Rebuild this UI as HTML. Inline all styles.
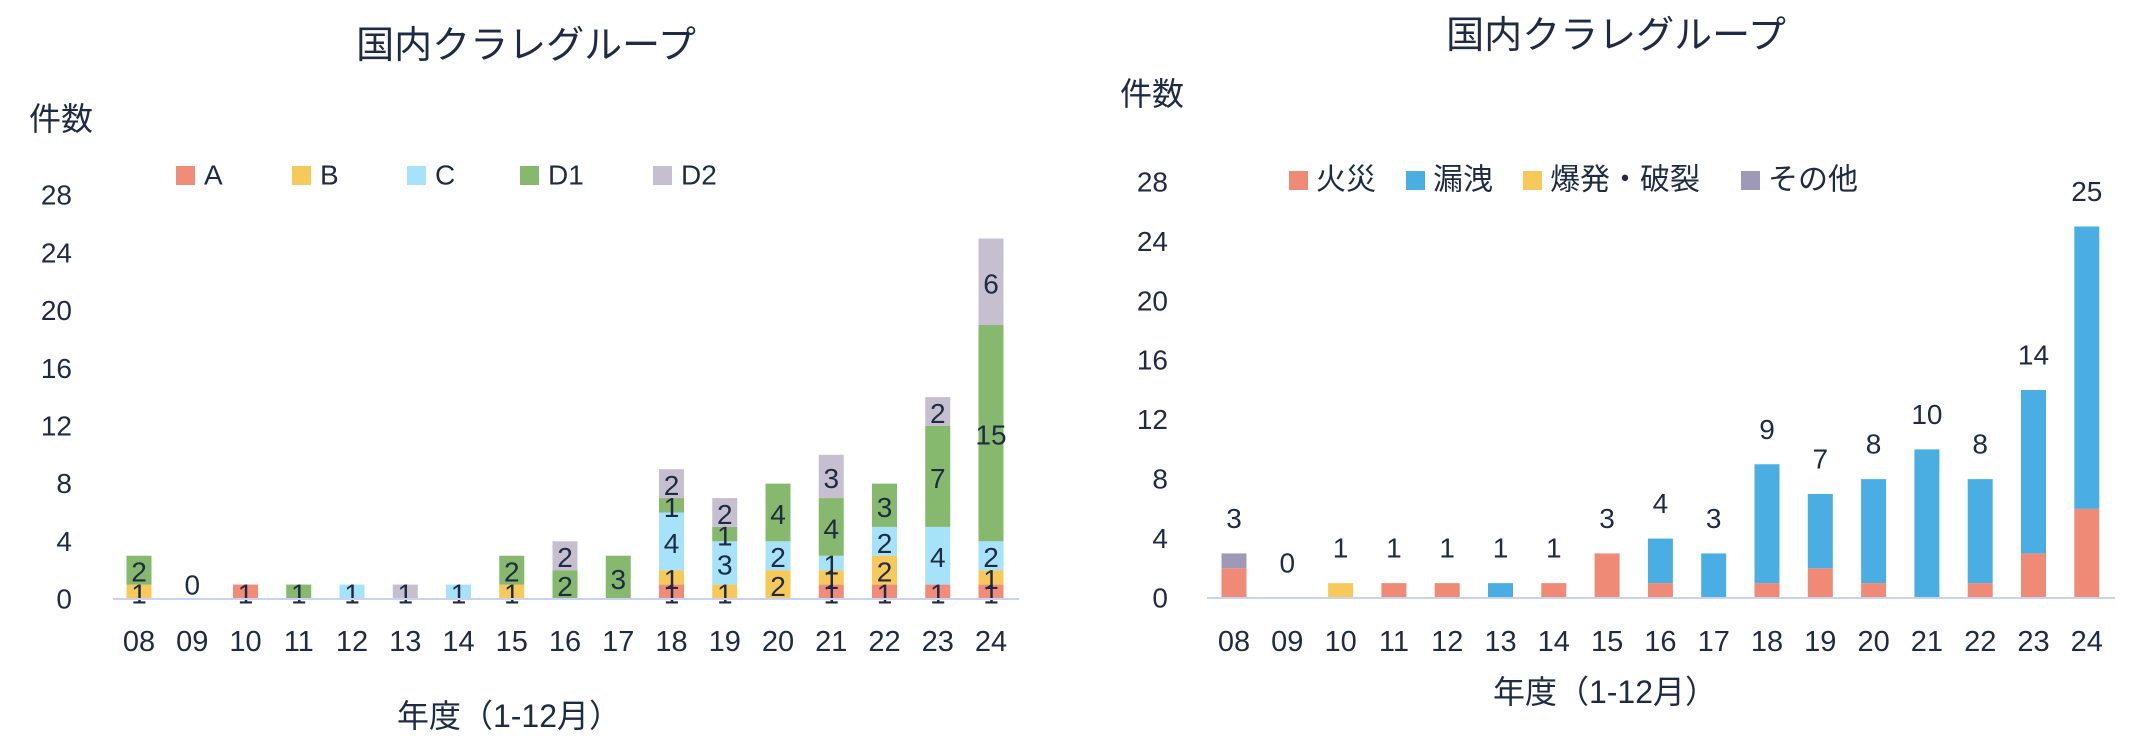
<!DOCTYPE html>
<html><head><meta charset="utf-8">
<style>
html,body{margin:0;padding:0;background:#fff;}
svg{display:block;font-family:"Liberation Sans","Noto Sans CJK JP",sans-serif;}
</style></head>
<body>
<svg id="c" width="2144" height="754" viewBox="0 0 2144 754" xmlns="http://www.w3.org/2000/svg">
<g id="left"></g>
<g id="right"></g>
</svg>
<script>
const years = ["08","09","10","11","12","13","14","15","16","17","18","19","20","21","22","23","24"];
const seriesA  = [0,0,1,0,0,0,0,0,0,0,1,0,0,1,1,1,1];
const seriesB  = [1,0,0,0,0,0,0,1,0,0,1,1,2,1,2,0,1];
const seriesC  = [0,0,0,0,1,0,1,0,0,0,4,3,2,1,2,4,2];
const seriesD1 = [2,0,0,1,0,0,0,2,2,3,1,1,4,4,3,7,15];
const seriesD2 = [0,0,0,0,0,1,0,0,2,0,2,2,0,3,0,2,6];
const fire      = [2,0,0,1,1,0,1,3,1,0,1,2,1,0,1,3,6];
const leak      = [0,0,0,0,0,1,0,0,3,3,8,5,7,10,7,11,19];
const explosion = [0,0,1,0,0,0,0,0,0,0,0,0,0,0,0,0,0];
const other     = [1,0,0,0,0,0,0,0,0,0,0,0,0,0,0,0,0];
const yTicks = [0,4,8,12,16,20,24,28];
const leftNames = ["A","B","C","D1","D2"];
const rightNames = ["火災","漏洩","爆発・破裂","その他"];

const NS="http://www.w3.org/2000/svg";
const TXT="#1f2a44";
function mk(parent,tag,attrs,text){
  const e=document.createElementNS(NS,tag);
  for(const k in attrs) e.setAttribute(k,attrs[k]);
  if(text!==undefined) e.textContent=text;
  parent.appendChild(e);
  return e;
}

function drawChart(g,cfg){
  const x=i=>cfg.x0+i*cfg.step;
  const y=v=>cfg.y0-v*cfg.unit;
  let t=mk(g,"text",{x:cfg.titleX,y:cfg.titleY,"font-size":38,fill:TXT,"text-anchor":"middle","dominant-baseline":"central"},"国内クラレグループ");
  
  
  t=mk(g,"text",{x:cfg.ylabX,y:cfg.ylabY,"font-size":32,fill:TXT,"dominant-baseline":"central"},"件数");
  
  
  yTicks.forEach(v=>{
    const e=mk(g,"text",{x:cfg.tickX,y:y(v),"font-size":28,fill:TXT,"text-anchor":"end","dominant-baseline":"central"},String(v));
    
    
  });
  years.forEach((yr,i)=>{
    const e=mk(g,"text",{x:x(i),y:642,"font-size":29,fill:TXT,"text-anchor":"middle","dominant-baseline":"central"},yr);
    
    
  });
  t=mk(g,"text",{x:cfg.xtX,y:cfg.xtY,"font-size":32,fill:TXT,"text-anchor":"middle","dominant-baseline":"central"},"年度（1-12月）");
  
  
  // bars
  const bw=25;
  years.forEach((yr,i)=>{
    let acc=0;
    cfg.series.forEach((s,si)=>{
      const v=s[i];
      if(v<=0) return;
      const r=mk(g,"rect",{x:x(i)-bw/2,y:y(acc+v),width:bw,height:v*cfg.unit,fill:cfg.colors[si]});
      
      
      if(cfg.segLabels){
        const l=mk(g,"text",{x:x(i),y:y(acc+v/2)+2,"font-size":28,fill:TXT,"text-anchor":"middle","dominant-baseline":"central"},String(v));
        
        
      }
      acc+=v;
    });
    if(cfg.segLabels && acc===0){
      const l=mk(g,"text",{x:x(i),y:y(0)-14,"font-size":28,fill:TXT,"text-anchor":"middle","dominant-baseline":"central"},"0");
      
      
    }
    if(cfg.totalLabels){
      const l=mk(g,"text",{x:x(i),y:y(acc)-35,"font-size":28,fill:TXT,"text-anchor":"middle","dominant-baseline":"central"},String(acc));
      
      
    }
  });
  const ax=mk(g,"line",{x1:cfg.axX1,x2:cfg.axX2,y1:cfg.y0,y2:cfg.y0,stroke:"#c9d3f0","stroke-width":2});
  
  
  // legend
  cfg.names.forEach((n,si)=>{
    const lx=cfg.legX[si];
    const sw=mk(g,"rect",{x:lx,y:cfg.legY-9,width:19,height:19,fill:cfg.colors[si]});
    
    
    const lt=mk(g,"text",{x:lx+cfg.legGap,y:cfg.legY,"font-size":cfg.legFont,fill:TXT,"dominant-baseline":"central"},n);
    
    
  });
}

drawChart(document.getElementById("left"),{
  x0:139,step:53.25,y0:599,unit:14.42,
  titleX:526,titleY:46,ylabX:29,ylabY:119,tickX:72,xtX:509,xtY:716,
  axX1:113,axX2:1019,
  series:[seriesA,seriesB,seriesC,seriesD1,seriesD2],
  colors:["#f08c78","#f7c85a","#a6e2f9","#86b96e","#c5bfcf"],
  names:leftNames,segLabels:true,totalLabels:false,
  legX:[176,292,407,520,653],legY:175,legGap:28,legFont:28
});
drawChart(document.getElementById("right"),{
  x0:1234,step:53.3,y0:598,unit:14.86,
  titleX:1616,titleY:36,ylabX:1120,ylabY:94,tickX:1168,xtX:1605,xtY:692,
  axX1:1207,axX2:2115,
  series:[fire,leak,explosion,other],
  colors:["#ef8a76","#4baee3","#f7c85a","#9f99b8"],
  names:rightNames,segLabels:false,totalLabels:true,
  legX:[1289,1406,1523,1741],legY:180,legGap:27,legFont:30
});
</script>
</body></html>
